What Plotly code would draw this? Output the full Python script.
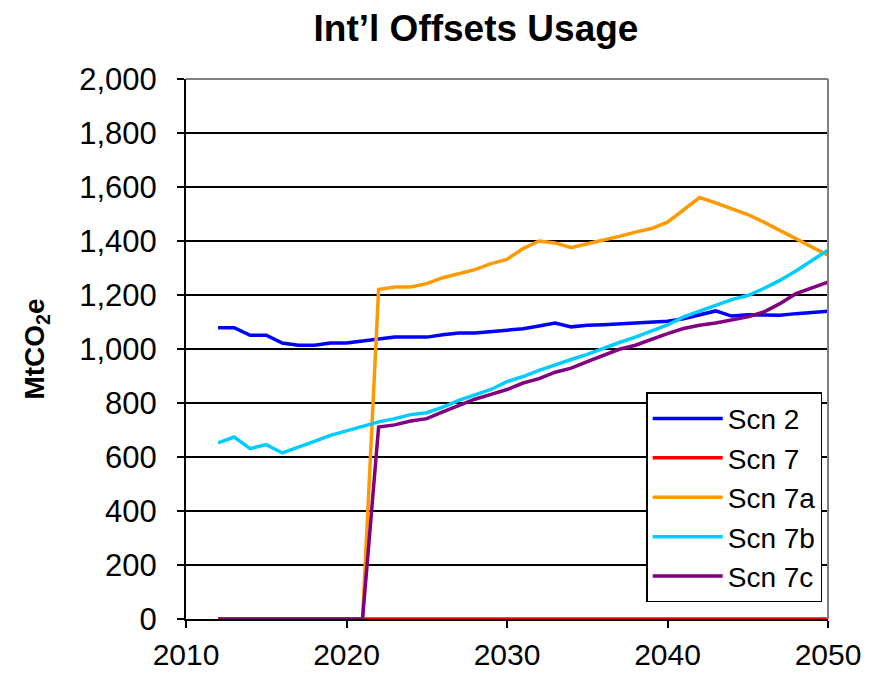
import plotly.graph_objects as go

years = list(range(2012, 2051))

scn2 = [1079, 1079, 1051, 1051, 1022, 1014, 1014, 1022, 1022, 1030,
        1038, 1044, 1044, 1044, 1053, 1059, 1059, 1065, 1069, 1075,
        1085, 1096, 1082, 1088, 1090, 1094, 1096, 1100, 1103, 1112,
        1125, 1141, 1122, 1127, 1126, 1125, 1131, 1137, 1140]
scn7 = [0] * 39
scn7a = [0, 0, 0, 0, 0, 0, 0, 0, 0, 0,
         1220, 1230, 1230, 1242, 1264, 1279, 1294, 1316, 1332, 1372,
         1400, 1393, 1375, 1390, 1403, 1417, 1433, 1446, 1470, 1514,
         1561, 1541, 1520, 1498, 1470, 1440, 1409, 1378, 1347]
scn7b = [652, 674, 631, 646, 615, 635, 658, 680, 696, 711,
         730, 742, 757, 764, 785, 810, 831, 850, 879, 898,
         921, 942, 961, 980, 1003, 1024, 1044, 1068, 1089, 1119,
         1141, 1164, 1183, 1198, 1224, 1254, 1289, 1328, 1366]
scn7c = [0, 0, 0, 0, 0, 0, 0, 0, 0, 0,
         711, 719, 733, 742, 767, 791, 814, 832, 850, 874,
         890, 914, 929, 953, 977, 999, 1014, 1036, 1057, 1076,
         1088, 1096, 1109, 1119, 1137, 1168, 1205, 1227, 1248]

series = [
    ('Scn 2', scn2, '#0000FF'),
    ('Scn 7', scn7, '#FF0000'),
    ('Scn 7a', scn7a, '#FF9900'),
    ('Scn 7b', scn7b, '#00CCFF'),
    ('Scn 7c', scn7c, '#800080'),
]

FONT = 'Liberation Sans, Arial, sans-serif'
# the page body adds an 8px margin, so the figure is 8px smaller than the window
W, H = 869, 669

fig = go.Figure()
for name, vals, color in series:
    fig.add_trace(go.Scatter(
        x=years, y=vals, name=name, mode='lines',
        line=dict(color=color, width=3.5),
    ))

fig.update_layout(
    width=W, height=H,
    margin=dict(l=178, r=49, t=71, b=58),
    paper_bgcolor='white', plot_bgcolor='white',
    font=dict(family=FONT, size=31, color='black'),
    title=dict(
        text='<b>Int\u2019l Offsets Usage</b>',
        x=468 / W, xanchor='center', xref='container',
        y=1 - 20 / H, yanchor='middle',
        font=dict(size=37, family=FONT),
    ),
    showlegend=True,
    legend=dict(
        x=0.991, y=0.031, xanchor='right', yanchor='bottom',
        bgcolor='white', bordercolor='black', borderwidth=1.5,
        font=dict(size=28), tracegroupgap=0, itemwidth=70,
    ),
)

fig.update_xaxes(
    range=[2010, 2050], dtick=10, tick0=2010,
    showgrid=False, zeroline=False, automargin=False,
    showline=True, linecolor='black', linewidth=2,
    ticks='outside', ticklen=7, tickwidth=2, tickcolor='black',
    ticklabelstandoff=1, tickfont=dict(size=30),
)
fig.update_yaxes(
    range=[0, 2000], dtick=200, tickformat=',',
    showgrid=True, gridcolor='black', gridwidth=1.5,
    zeroline=False, automargin=False,
    showline=True, linecolor='black', linewidth=2,
    ticks='outside', ticklen=7, tickwidth=2, tickcolor='black',
    ticklabelstandoff=14,
    title=dict(text='<b>MtCO<sub>2</sub>e</b>', font=dict(size=28), standoff=26),
)

# grey frame on top and right edges of the plot area
fig.add_shape(type='line', xref='paper', yref='paper', x0=0, x1=1, y0=1, y1=1,
              line=dict(color='#808080', width=2), layer='above')
fig.add_shape(type='line', xref='paper', yref='paper', x0=1, x1=1, y0=0, y1=1,
              line=dict(color='#808080', width=2), layer='above')

fig.write_html('out.html')
